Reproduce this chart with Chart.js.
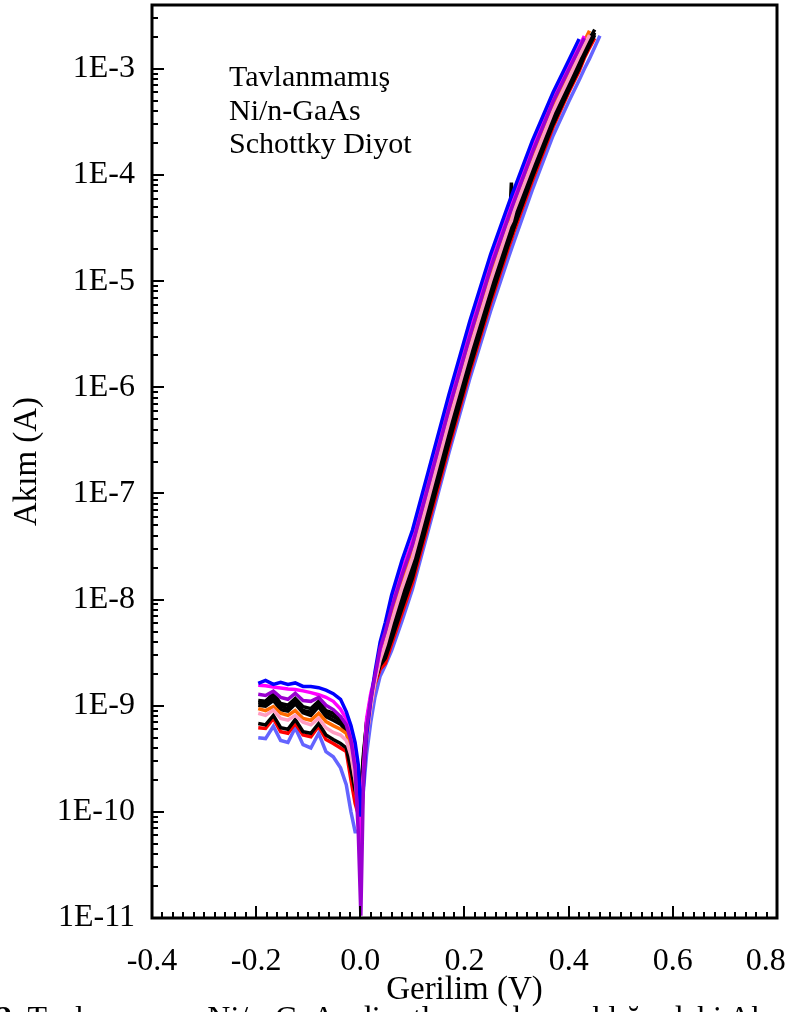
<!DOCTYPE html>
<html lang="tr">
<head>
<meta charset="utf-8">
<script src="https://cdn.jsdelivr.net/npm/chart.js@4.4.0/dist/chart.umd.min.js"></script>
<style>
  html, body { margin: 0; padding: 0; background: #fff; }
  body { width: 785px; height: 1012px; position: relative; overflow: hidden;
         font-family: "Liberation Serif", "Times New Roman", serif; color: #000; }
  #chart { position: absolute; left: 0; top: 0; }
  .note { position: absolute; left: 229px; top: 59px; font-size: 30px; line-height: 33.5px; }
  .caption { position: absolute; left: -4px; top: 1001px; font-size: 32px; line-height: 32px; white-space: nowrap; }
</style>
</head>
<body>
<canvas id="chart" width="785" height="1012"></canvas>
<div class="note">Tavlanmamış<br>Ni/n-GaAs<br>Schottky Diyot</div>
<div class="caption"><b>2.</b> Tavlanmamış Ni/n-GaAs diyotların oda sıcaklığındaki Akım-Gerilim eğrileri</div>
<script>
// Bias voltage (V), shared by every measured diode
const voltage = [-0.196, -0.182, -0.167, -0.153, -0.139, -0.125, -0.110, -0.095, -0.080, -0.066,
  -0.052, -0.038, -0.027, -0.018, -0.010, -0.004, 0.001, 0.006, 0.012, 0.020,
  0.028, 0.038, 0.048, 0.060, 0.080, 0.100, 0.130, 0.170, 0.210, 0.250,
  0.285, 0.290, 0.295, 0.330, 0.370, 0.400, 0.420, 0.430, 0.440, 0.450, 0.460];

// Current (A) for each diode
const currentBlue = [1.62e-9, 1.73e-9, 1.59e-9, 1.66e-9, 1.59e-9, 1.64e-9, 1.52e-9, 1.52e-9, 1.48e-9, 1.40e-9,
  1.30e-9, 1.15e-9, 0.88e-9, 0.65e-9, 0.45e-9, 0.28e-9, 9e-11, 1.8e-10, 5.2e-10, 1.12e-9,
  2.07e-9, 3.98e-9, 6.1e-9, 1.10e-8, 2.34e-8, 4.5e-8, 1.58e-7, 8.5e-7, 4.17e-6, 1.78e-5,
  5.4e-5, 6.3e-5, 7.3e-5, 2.09e-4, 6.0e-4, 1.20e-3, 1.91e-3, null, null, null, null];
const currentMagenta = [1.56e-9, 1.54e-9, 1.50e-9, 1.47e-9, 1.44e-9, 1.42e-9, 1.38e-9, 1.33e-9, 1.27e-9, 1.20e-9,
  1.10e-9, 0.93e-9, 0.75e-9, 0.55e-9, 0.32e-9, 1.2e-10, 3.6e-11, 2.5e-10, 7.5e-10, 1.3e-9,
  1.9e-9, 3.4e-9, 5.2e-9, 9.2e-9, 1.9e-8, 3.6e-8, 1.23e-7, 6.6e-7, 3.3e-6, 1.45e-5,
  4.4e-5, 5.25e-5, 6.1e-5, 1.78e-4, 5.25e-4, 1.05e-3, 1.62e-3, 2.04e-3, null, null, null];
const currentPurple = [1.28e-9, 1.25e-9, 1.37e-9, 1.20e-9, 1.15e-9, 1.31e-9, 1.12e-9, 1.10e-9, 1.20e-9, 1.01e-9,
  0.92e-9, 0.79e-9, 0.66e-9, 0.47e-9, 0.25e-9, 6.5e-11, 1.05e-11, 2.0e-10, 6.0e-10, 1.15e-9,
  1.9e-9, 3.5e-9, 5.0e-9, 8.3e-9, 1.70e-8, 3.27e-8, 1.15e-7, 6.2e-7, 3.0e-6, 1.32e-5,
  4.1e-5, 4.8e-5, 5.6e-5, 1.62e-4, 4.9e-4, 9.8e-4, 1.55e-3, 1.95e-3, null, null, null];
const currentOrange = [0.94e-9, 0.90e-9, 0.98e-9, 0.85e-9, 0.81e-9, 0.90e-9, 0.76e-9, 0.73e-9, 0.85e-9, 0.71e-9,
  0.65e-9, 0.60e-9, 0.55e-9, 0.38e-9, 0.20e-9, 9e-11, 6e-11, 2.0e-10, 5.0e-10, 1.0e-9,
  1.7e-9, 2.9e-9, 4.1e-9, 6.9e-9, 1.45e-8, 2.78e-8, 9.8e-8, 5.25e-7, 2.57e-6, 1.12e-5,
  3.6e-5, 4.2e-5, 5.0e-5, 1.45e-4, 4.4e-4, 8.9e-4, 1.41e-3, 1.82e-3, 2.29e-3, null, null];
const currentPink = [0.85e-9, 0.81e-9, 0.91e-9, 0.76e-9, 0.73e-9, 0.81e-9, 0.70e-9, 0.66e-9, 0.76e-9, 0.62e-9,
  0.56e-9, 0.53e-9, 0.47e-9, 0.34e-9, 0.20e-9, 1.2e-10, 1.1e-10, 2.2e-10, 5.0e-10, 9.5e-10,
  1.65e-9, 2.7e-9, 3.8e-9, 6.2e-9, 1.29e-8, 2.48e-8, 8.7e-8, 4.7e-7, 2.29e-6, 1.0e-5,
  3.3e-5, 3.7e-5, 4.6e-5, 1.29e-4, 4.0e-4, 8.1e-4, 1.32e-3, 1.66e-3, 2.09e-3, null, null];
const currentBlack1 = [1.12e-9, 1.10e-9, 1.30e-9, 1.05e-9, 1.01e-9, 1.17e-9, 0.98e-9, 0.94e-9, 1.10e-9, 0.90e-9,
  0.85e-9, 0.78e-9, 0.65e-9, 0.45e-9, 0.26e-9, 1.6e-10, 1.5e-10, 3.2e-10, 7.0e-10, 1.2e-9,
  1.8e-9, 2.8e-9, 3.4e-9, 5.5e-9, 1.15e-8, 2.21e-8, 7.8e-8, 4.2e-7, 2.09e-6, 9.1e-6,
  3.0e-5, 3.47e-5, 4.1e-5, 1.20e-4, 3.7e-4, 7.8e-4, 1.26e-3, 1.58e-3, 2.0e-3, 2.2e-3, null];
const currentBlack2 = [1.07e-9, 1.05e-9, 1.20e-9, 0.99e-9, 0.94e-9, 1.10e-9, 0.90e-9, 0.87e-9, 1.04e-9, 0.85e-9,
  0.79e-9, 0.72e-9, 0.62e-9, 0.43e-9, 0.25e-9, 1.3e-10, 1.6e-10, 3.0e-10, 6.5e-10, 1.15e-9,
  1.75e-9, 2.6e-9, 3.2e-9, 5.0e-9, 1.02e-8, 1.97e-8, 6.9e-8, 3.7e-7, 1.86e-6, 8.1e-6,
  2.4e-5, 8.5e-5, 3.27e-5, 1.12e-4, 3.47e-4, 7.2e-4, 1.15e-3, 1.51e-3, 1.91e-3, 2.34e-3, null];
const currentBlack3 = [1.01e-9, 0.99e-9, 1.12e-9, 0.92e-9, 0.89e-9, 1.04e-9, 0.86e-9, 0.81e-9, 0.98e-9, 0.79e-9,
  0.73e-9, 0.67e-9, 0.58e-9, 0.40e-9, 0.24e-9, 1.4e-10, 1.3e-10, 2.8e-10, 6.0e-10, 1.1e-9,
  1.7e-9, 2.5e-9, 3.0e-9, 4.6e-9, 9.1e-9, 1.75e-8, 6.2e-8, 3.3e-7, 1.66e-6, 7.4e-6,
  2.5e-5, 2.95e-5, 3.5e-5, 1.02e-4, 3.16e-4, 6.8e-4, 1.07e-3, 1.41e-3, 1.78e-3, 2.19e-3, null];
const currentBlack4 = [0.68e-9, 0.66e-9, 0.81e-9, 0.62e-9, 0.60e-9, 0.74e-9, 0.57e-9, 0.55e-9, 0.68e-9, 0.53e-9,
  0.48e-9, 0.44e-9, 0.40e-9, 0.25e-9, 1.6e-10, 1.3e-10, 1.6e-10, 3.5e-10, 7.0e-10, 1.15e-9,
  1.7e-9, 2.4e-9, 2.8e-9, 4.2e-9, 8.3e-9, 1.6e-8, 5.6e-8, 3.0e-7, 1.51e-6, 6.8e-6,
  2.29e-5, 2.69e-5, 3.2e-5, 9.5e-5, 3.0e-4, 6.3e-4, 1.0e-3, 1.32e-3, 1.66e-3, 2.09e-3, null];
const currentRed = [0.62e-9, 0.61e-9, 0.76e-9, 0.57e-9, 0.55e-9, 0.68e-9, 0.53e-9, 0.51e-9, 0.64e-9, 0.48e-9,
  0.44e-9, 0.40e-9, 0.37e-9, 0.20e-9, 1.2e-10, 9.5e-11, 1.0e-10, 2.5e-10, 5.5e-10, 1.0e-9,
  1.6e-9, 2.2e-9, 2.5e-9, 3.8e-9, 7.4e-9, 1.43e-8, 5.0e-8, 2.7e-7, 1.38e-6, 6.2e-6,
  2.09e-5, 2.45e-5, 2.92e-5, 8.7e-5, 2.82e-4, 6.0e-4, 9.5e-4, 1.26e-3, 1.58e-3, 1.95e-3, null];
const currentLightBlue = [0.50e-9, 0.49e-9, 0.64e-9, 0.47e-9, 0.45e-9, 0.62e-9, 0.43e-9, 0.40e-9, 0.55e-9, 0.37e-9,
  0.33e-9, 0.26e-9, 0.18e-9, 1.0e-10, 6.5e-11, 6.5e-11, 1.0e-10, 1.6e-10, 3.5e-10, 7.0e-10,
  1.2e-9, 1.9e-9, 2.4e-9, 3.3e-9, 6.3e-9, 1.25e-8, 4.4e-8, 2.4e-7, 1.2e-6, 5.2e-6,
  1.7e-5, 2.0e-5, 2.35e-5, 7.2e-5, 2.35e-4, 4.9e-4, 7.8e-4, 1.0e-3, 1.25e-3, 1.6e-3, 2.05e-3];

// Axis ranges and decade labels
const xMin = -0.4, xMax = 0.8, xStep = 0.2;
const yMin = 1e-11, yMax = 4e-3;
const yDecades = [-11, -10, -9, -8, -7, -6, -5, -4, -3];

const serif = '"Liberation Serif", "Times New Roman", serif';

// first entry is drawn on top
const curves = [
  { name: 'D3', color: '#9a00d0', values: currentPurple },
  { name: 'D1', color: '#0000ff', values: currentBlue },
  { name: 'D2', color: '#ff00ff', values: currentMagenta },
  { name: 'D5', color: '#ff9cc2', values: currentPink },
  { name: 'D4', color: '#ff6a00', values: currentOrange },
  { name: 'D6', color: '#000000', values: currentBlack1 },
  { name: 'D7', color: '#000000', values: currentBlack2 },
  { name: 'D8', color: '#000000', values: currentBlack3 },
  { name: 'D9', color: '#000000', values: currentBlack4 },
  { name: 'D10', color: '#ff0000', values: currentRed },
  { name: 'D11', color: '#6464ff', values: currentLightBlue }
];

const datasets = curves.map(c => ({
  label: c.name,
  data: voltage.map((v, i) => ({ x: v, y: c.values[i] })),
  borderColor: c.color,
  backgroundColor: c.color,
  borderWidth: 3.5,
  pointRadius: 0,
  tension: 0,
  spanGaps: false
}));

// Box frame with inward ticks (Origin style)
const axisFrame = {
  id: 'axisFrame',
  afterDraw(chart) {
    const { ctx, chartArea: a, scales: { x, y } } = chart;
    ctx.save();
    ctx.strokeStyle = '#000';
    ctx.lineWidth = 2;
    ctx.beginPath();
    const minorCount = Math.round((xMax - xMin) / 0.02);
    for (let i = 0; i <= minorCount; i++) {
      const px = Math.round(x.getPixelForValue(xMin + i * 0.02));
      const len = i % 10 === 0 ? 12 : 6;
      ctx.moveTo(px, a.bottom);
      ctx.lineTo(px, a.bottom - len);
    }
    yDecades.forEach(e => {
      for (let m = 1; m <= 9; m++) {
        const v = m * Math.pow(10, e);
        if (v > yMax) break;
        const py = Math.round(y.getPixelForValue(v));
        ctx.moveTo(a.left, py);
        ctx.lineTo(a.left + (m === 1 ? 12 : 6), py);
      }
    });
    ctx.stroke();
    ctx.lineWidth = 3;
    ctx.strokeRect(a.left, a.top, a.right - a.left, a.bottom - a.top);
    ctx.restore();
  }
};

// keeps the last x label inside the canvas
const xLabel = v => {
  if (Math.abs(v) < 1e-9) return '0.0';
  const s = v.toFixed(1);
  return Math.abs(v - xMax) < 1e-9 ? s + '\u2002\u2009' : s;
};

new Chart(document.getElementById('chart'), {
  type: 'line',
  data: { datasets },
  options: {
    responsive: false,
    animation: false,
    events: [],
    layout: { padding: { top: 5, right: 8, left: 0, bottom: 0 } },
    plugins: { legend: { display: false }, tooltip: { enabled: false } },
    scales: {
      x: {
        type: 'linear',
        min: xMin,
        max: xMax,
        grid: { display: false },
        border: { display: false },
        ticks: {
          stepSize: xStep,
          color: '#000',
          padding: 16,
          font: { family: serif, size: 32 },
          callback: xLabel
        },
        title: {
          display: true,
          text: 'Gerilim (V)',
          color: '#000',
          font: { family: serif, size: 33 },
          padding: { top: 0, bottom: 2 }
        },
        afterFit: s => { s.height = 94; s.paddingLeft = 0; s.paddingRight = 0; }
      },
      y: {
        type: 'logarithmic',
        min: yMin,
        max: yMax,
        grid: { display: false },
        border: { display: false },
        afterBuildTicks: s => { s.ticks = yDecades.map(e => ({ value: Math.pow(10, e) })); },
        ticks: {
          autoSkip: false,
          color: '#000',
          padding: 9,
          font: { family: serif, size: 32 },
          callback: v => '1E' + Math.round(Math.log10(v))
        },
        title: {
          display: true,
          text: 'Akım (A)',
          color: '#000',
          font: { family: serif, size: 33 },
          padding: { top: 8, bottom: 0 }
        },
        afterFit: s => { s.width = 152; s.paddingTop = 0; s.paddingBottom = 0; }
      }
    }
  },
  plugins: [axisFrame]
});
</script>
</body>
</html>
